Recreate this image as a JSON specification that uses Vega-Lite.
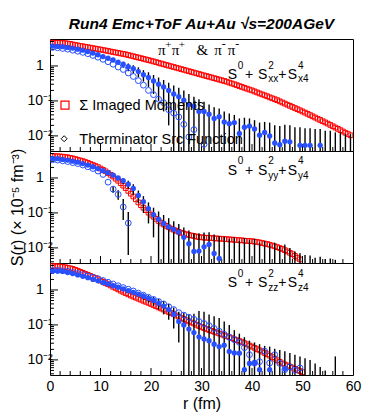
{
"$schema":"https://vega.github.io/schema/vega-lite/v6.json",
"padding":{"left":9,"top":16,"right":5,"bottom":5},
"background":"white",
"spacing":0,
"bounds":"flush",
"config":{"view":{"stroke":"black","strokeWidth":1},"concat":{"spacing":0},
"axis":{"labelFont":"Liberation Sans","labelFontSize":14,"labelColor":"black","ticks":false,"domain":false,"grid":false,"labelOverlap":false,"labelFlush":false,"titleFont":"Liberation Sans","titleFontWeight":"normal","titleFontSize":16,"titleColor":"black"}},
"datasets":{
"xmin":[{"r":2},{"r":4},{"r":6},{"r":8},{"r":12},{"r":14},{"r":16},{"r":18},{"r":22},{"r":24},{"r":26},{"r":28},{"r":32},{"r":34},{"r":36},{"r":38},{"r":42},{"r":44},{"r":46},{"r":48},{"r":52},{"r":54},{"r":56},{"r":58}],
"xmaj":[{"r":10},{"r":20},{"r":30},{"r":40},{"r":50}],
"ymin":[{"v":0.004},{"v":0.005},{"v":0.006},{"v":0.007},{"v":0.008},{"v":0.009},{"v":0.02},{"v":0.03},{"v":0.04},{"v":0.05},{"v":0.06},{"v":0.07},{"v":0.08},{"v":0.09},{"v":0.2},{"v":0.3},{"v":0.4},{"v":0.5},{"v":0.6},{"v":0.7},{"v":0.8},{"v":0.9},{"v":2},{"v":3},{"v":4},{"v":5}],
"ymaj":[{"v":0.01},{"v":0.1},{"v":1}],
"img":[
{"r":0.5,"xx":4.62,"yy":4.22,"zz":4.79},{"r":1,"xx":4.61,"yy":4.21,"zz":4.76},{"r":1.5,"xx":4.59,"yy":4.17,"zz":4.73},{"r":2,"xx":4.57,"yy":4.12,"zz":4.68},{"r":2.5,"xx":4.52,"yy":4.07,"zz":4.57},{"r":3,"xx":4.47,"yy":3.98,"zz":4.47},{"r":3.5,"xx":4.37,"yy":3.89,"zz":4.32},{"r":4,"xx":4.27,"yy":3.76,"zz":4.17},{"r":4.5,"xx":4.12,"yy":3.63,"zz":3.98},{"r":5,"xx":3.98,"yy":3.47,"zz":3.76},
{"r":5.5,"xx":3.86,"yy":3.31,"zz":3.55},{"r":6,"xx":3.75,"yy":3.16,"zz":3.31},{"r":6.5,"xx":3.64,"yy":3.02,"zz":3.09},{"r":7,"xx":3.53,"yy":2.85,"zz":2.88},{"r":7.5,"xx":3.43,"yy":2.69,"zz":2.69},{"r":8,"xx":3.33,"yy":2.51,"zz":2.51},{"r":8.5,"xx":3.23,"yy":2.34,"zz":2.34},{"r":9,"xx":3.13,"yy":2.19,"zz":2.19},{"r":9.5,"xx":3.04,"yy":2.04,"zz":2.02},{"r":10,"xx":2.95,"yy":1.86,"zz":1.86},
{"r":10.5,"xx":2.86,"yy":1.70,"zz":1.72},{"r":11,"xx":2.77,"yy":1.55,"zz":1.58},{"r":11.5,"xx":2.68,"yy":1.38,"zz":1.46},{"r":12,"xx":2.59,"yy":1.23,"zz":1.35},{"r":12.5,"xx":2.51,"yy":1.10,"zz":1.23},{"r":13,"xx":2.43,"yy":0.955,"zz":1.14},{"r":13.5,"xx":2.36,"yy":0.832,"zz":1.04},{"r":14,"xx":2.28,"yy":0.708,"zz":0.955},{"r":14.5,"xx":2.21,"yy":0.603,"zz":0.881},{"r":15,"xx":2.14,"yy":0.513,"zz":0.813},
{"r":15.5,"xx":2.05,"yy":0.427,"zz":0.75},{"r":16,"xx":1.97,"yy":0.355,"zz":0.692},{"r":16.5,"xx":1.89,"yy":0.295,"zz":0.646},{"r":17,"xx":1.81,"yy":0.245,"zz":0.603},{"r":17.5,"xx":1.74,"yy":0.2,"zz":0.562},{"r":18,"xx":1.67,"yy":0.166,"zz":0.525},{"r":18.5,"xx":1.6,"yy":0.141,"zz":0.49},{"r":19,"xx":1.53,"yy":0.12,"zz":0.457},{"r":19.5,"xx":1.47,"yy":0.102,"zz":0.427},{"r":20,"xx":1.41,"yy":0.0891,"zz":0.398},
{"r":20.5,"xx":1.35,"yy":0.0776,"zz":0.372},{"r":21,"xx":1.29,"yy":0.0676,"zz":0.343},{"r":21.5,"xx":1.23,"yy":0.0589,"zz":0.316},{"r":22,"xx":1.17,"yy":0.0525,"zz":0.295},{"r":22.5,"xx":1.12,"yy":0.0468,"zz":0.275},{"r":23,"xx":1.07,"yy":0.0427,"zz":0.254},{"r":23.5,"xx":1.02,"yy":0.0389,"zz":0.234},{"r":24,"xx":0.977,"yy":0.0355,"zz":0.219},{"r":24.5,"xx":0.933,"yy":0.0331,"zz":0.202},{"r":25,"xx":0.891,"yy":0.0309,"zz":0.186},
{"r":25.5,"xx":0.851,"yy":0.0288,"zz":0.172},{"r":26,"xx":0.813,"yy":0.0269,"zz":0.158},{"r":26.5,"xx":0.776,"yy":0.0257,"zz":0.148},{"r":27,"xx":0.741,"yy":0.0245,"zz":0.136},{"r":27.5,"xx":0.708,"yy":0.0234,"zz":0.126},{"r":28,"xx":0.676,"yy":0.0226,"zz":0.117},{"r":28.5,"xx":0.646,"yy":0.0219,"zz":0.11},{"r":29,"xx":0.617,"yy":0.0211,"zz":0.101},{"r":29.5,"xx":0.589,"yy":0.0204,"zz":0.0933},{"r":30,"xx":0.562,"yy":0.02,"zz":0.0871},
{"r":30.5,"xx":0.537,"yy":0.0197,"zz":0.0813},{"r":31,"xx":0.513,"yy":0.0195,"zz":0.0767},{"r":31.5,"xx":0.49,"yy":0.0193,"zz":0.0716},{"r":32,"xx":0.468,"yy":0.0191,"zz":0.0676},{"r":32.5,"xx":0.447,"yy":0.0188,"zz":0.0638},{"r":33,"xx":0.427,"yy":0.0186,"zz":0.0603},{"r":33.5,"xx":0.407,"yy":0.0184,"zz":0.0569},{"r":34,"xx":0.389,"yy":0.0182,"zz":0.0537},{"r":34.5,"xx":0.372,"yy":0.018,"zz":0.0501},{"r":35,"xx":0.355,"yy":0.0178,"zz":0.0473},
{"r":35.5,"xx":0.335,"yy":0.0175,"zz":0.0447},{"r":36,"xx":0.316,"yy":0.0173,"zz":0.0417},{"r":36.5,"xx":0.299,"yy":0.0171,"zz":0.0389},{"r":37,"xx":0.282,"yy":0.0168,"zz":0.0367},{"r":37.5,"xx":0.266,"yy":0.0166,"zz":0.0347},{"r":38,"xx":0.251,"yy":0.0164,"zz":0.0324},{"r":38.5,"xx":0.237,"yy":0.0161,"zz":0.0302},{"r":39,"xx":0.224,"yy":0.0159,"zz":0.0279},{"r":39.5,"xx":0.211,"yy":0.0157,"zz":0.0257},{"r":40,"xx":0.2,"yy":0.0155,"zz":0.024},
{"r":40.5,"xx":0.187,"yy":0.0151,"zz":0.0221},{"r":41,"xx":0.175,"yy":0.0148,"zz":0.0204},{"r":41.5,"xx":0.164,"yy":0.0143,"zz":0.0188},{"r":42,"xx":0.154,"yy":0.0138,"zz":0.0174},{"r":42.5,"xx":0.145,"yy":0.0133,"zz":0.0158},{"r":43,"xx":0.136,"yy":0.0129,"zz":0.0145},{"r":43.5,"xx":0.127,"yy":0.0123,"zz":0.0132},{"r":44,"xx":0.119,"yy":0.0117,"zz":0.012},{"r":44.5,"xx":0.112,"yy":0.0111,"zz":0.0108},{"r":45,"xx":0.105,"yy":0.0105,"zz":0.00977},
{"r":45.5,"xx":0.0973,"yy":0.00989,"zz":0.00881},{"r":46,"xx":0.0904,"yy":0.00933,"zz":0.00794},{"r":46.5,"xx":0.0839,"yy":0.00861,"zz":0.00741},{"r":47,"xx":0.078,"yy":0.00794,"zz":0.00692},{"r":47.5,"xx":0.0724,"yy":0.00724,"zz":0.00646},{"r":48,"xx":0.0673,"yy":0.00661,"zz":0.00603},{"r":48.5,"xx":0.0625,"yy":0.00589,"zz":0.00556},{"r":49,"xx":0.0581,"yy":0.00525,"zz":0.00513},{"r":49.5,"xx":0.054,"yy":0.00468,"zz":0.00479},{"r":50,"xx":0.0501,"zz":0.00447},
{"r":50.5,"xx":0.0462},{"r":51,"xx":0.0427},{"r":51.5,"xx":0.0394},{"r":52,"xx":0.0363},{"r":52.5,"xx":0.0335},{"r":53,"xx":0.0309},{"r":53.5,"xx":0.0285},{"r":54,"xx":0.0263},{"r":54.5,"xx":0.0243},{"r":55,"xx":0.0224},
{"r":55.5,"xx":0.0206},{"r":56,"xx":0.0189},{"r":56.5,"xx":0.0173},{"r":57,"xx":0.0159},{"r":57.5,"xx":0.0146},{"r":58,"xx":0.0134},{"r":58.5,"xx":0.0123},{"r":59,"xx":0.0113},{"r":59.5,"xx":0.0104}
],
"dxx":[
{"r":0.5,"v":3.72},{"r":1.5,"v":3.63},{"r":2.5,"v":3.55},{"r":3.5,"v":3.39},{"r":4.5,"v":3.24},{"r":5.5,"v":3.02},{"r":6.5,"v":2.82},{"r":7.5,"v":2.57},{"r":8.5,"v":2.34},{"r":9.5,"v":2.09},{"r":10.5,"v":1.86},{"r":11.5,"v":1.66},{"r":12.5,"v":1.48},{"r":13.5,"v":1.29},
{"r":14.5,"v":1.12,"lo":0.891,"hi":1.32},{"r":15.5,"v":0.955,"lo":0.708,"hi":1.17},{"r":16.5,"v":0.832,"lo":0.603,"hi":1.05},{"r":17.5,"v":0.692,"lo":0.468,"hi":0.912},{"r":18.5,"v":0.562,"lo":0.355,"hi":0.759},{"r":19.5,"v":0.468,"lo":0.251,"hi":0.661},{"r":20.5,"v":0.372,"lo":0.158,"hi":0.55},{"r":21.5,"v":0.302,"lo":0.1,"hi":0.468},{"r":22.5,"v":0.251,"lo":0.0501,"hi":0.398},{"r":23.5,"v":0.2,"lo":0.02,"hi":0.331},
{"r":24.5,"v":0.158,"lo":0.0001,"hi":0.275},{"r":25.5,"v":0.132,"lo":0.0001,"hi":0.24},{"r":26.5,"v":0.105,"lo":0.0001,"hi":0.2},{"r":27.5,"v":0.0794,"lo":0.0001,"hi":0.158},{"r":28.5,"v":0.0708,"lo":0.0001,"hi":0.132},{"r":29.5,"v":0.0501,"lo":0.0001,"hi":0.112},{"r":30.5,"v":0.0501,"lo":0.0001,"hi":0.0955},{"r":31.5,"v":0.0417,"lo":0.0001,"hi":0.0794},{"r":32.5,"v":0.0316,"lo":0.0001,"hi":0.0661},{"r":33.5,"v":0.0355,"lo":0.0001,"hi":0.0603},
{"r":34.5,"v":0.0251,"lo":0.0001,"hi":0.0501},{"r":35.5,"v":0.0224,"lo":0.0001,"hi":0.0437},{"r":36.5,"v":0.024,"lo":0.0001,"hi":0.0398},{"r":37.5,"v":0.0117,"lo":0.0001,"hi":0.0316},{"r":38.5,"v":0.0178,"lo":0.0001,"hi":0.0331},{"r":39.5,"v":0.0191,"lo":0.0001,"hi":0.0316},{"r":40.5,"v":0.0158,"lo":0.0001,"hi":0.0282},{"r":41.5,"v":0.0105,"lo":0.0001,"hi":0.024},{"r":42.5,"v":0.0126,"lo":0.0001,"hi":0.0251},{"r":43.5,"v":0.01,"lo":0.0001,"hi":0.024},
{"r":44.5,"v":0.00631,"lo":0.0001,"hi":0.02},{"r":45.5,"v":0.00562,"lo":0.0001,"hi":0.0191},{"r":46.5,"v":0.00708,"lo":0.0001,"hi":0.0209},{"r":47.5,"v":0.00676,"lo":0.0001,"hi":0.02},{"r":48.5,"v":null,"lo":0.0001,"hi":0.0178},{"r":49.5,"v":0.00537,"lo":0.0001,"hi":0.0178},{"r":50.5,"v":0.00537,"lo":0.0001,"hi":0.0166},{"r":51.5,"v":0.00537,"lo":0.0001,"hi":0.0166},{"r":52.5,"v":null,"lo":0.0001,"hi":0.0158},{"r":53.5,"v":0.00537,"lo":0.0001,"hi":0.0158},
{"r":54.5,"v":null,"lo":0.0001,"hi":0.0141},{"r":55.5,"v":null,"lo":0.0001,"hi":0.0141},{"r":56.5,"v":null,"lo":0.0001,"hi":0.0126},{"r":57.5,"v":null,"lo":0.0001,"hi":0.0126},{"r":58.5,"v":null,"lo":0.0001,"hi":0.0112},{"r":59.5,"v":null,"lo":0.0001,"hi":0.0112}
],
"txx":[
{"r":0.5,"v":3.39},{"r":1.5,"v":3.31},{"r":2.5,"v":3.16},{"r":3.5,"v":3.02},{"r":4.5,"v":2.82},{"r":5.5,"v":2.63},{"r":6.5,"v":2.45},{"r":7.5,"v":2.24},{"r":8.5,"v":2.0},{"r":9.5,"v":1.78},{"r":10.5,"v":1.55},{"r":11.5,"v":1.32},{"r":12.5,"v":1.12},{"r":13.5,"v":0.933},{"r":14.5,"v":0.794},{"r":15.5,"v":0.631},{"r":16.5,"v":0.501},{"r":17.5,"v":0.38},{"r":18.5,"v":0.282},{"r":19.5,"v":0.2},{"r":20.5,"v":0.151},{"r":21.5,"v":0.112},{"r":22.5,"v":0.0891},{"r":23.5,"v":0.0562},{"r":24.5,"v":0.0447},{"r":25.5,"v":0.0347},{"r":26.5,"v":0.0214},{"r":27.5,"v":0.00933},{"r":28.5,"v":0.0151},{"r":30.5,"v":0.00575}
],
"dyy":[
{"r":0.5,"v":3.63},{"r":1.5,"v":3.55},{"r":2.5,"v":3.39},{"r":3.5,"v":3.24},{"r":4.5,"v":3.02},{"r":5.5,"v":2.82},{"r":6.5,"v":2.57},{"r":7.5,"v":2.34},{"r":8.5,"v":2.09},{"r":9.5,"v":1.86},{"r":10.5,"v":1.62},{"r":11.5,"v":1.41},{"r":12.5,"v":1.2},{"r":13.5,"v":1.0},
{"r":14.5,"v":0.832,"lo":0.661,"hi":1.0},{"r":15.5,"v":0.661,"lo":0.501,"hi":0.832},{"r":16.5,"v":0.501,"lo":0.331,"hi":0.661},{"r":17.5,"v":0.316,"lo":0.191,"hi":0.437},{"r":18.5,"v":0.209,"lo":0.1,"hi":0.302},{"r":19.5,"v":0.132,"lo":0.0501,"hi":0.2},{"r":20.5,"v":0.0891,"lo":0.02,"hi":0.141},{"r":21.5,"v":0.0661,"lo":0.0001,"hi":0.11},{"r":22.5,"v":0.0501,"lo":0.0001,"hi":0.0871},{"r":23.5,"v":0.0398,"lo":0.0001,"hi":0.0708},
{"r":24.5,"v":0.0339,"lo":0.0001,"hi":0.0575},{"r":25.5,"v":0.0282,"lo":0.0001,"hi":0.0479},{"r":26.5,"v":0.02,"lo":0.0001,"hi":0.038},{"r":27.5,"v":0.0132,"lo":0.0001,"hi":0.0316},{"r":28.5,"v":0.00794,"lo":0.0001,"hi":0.0263},{"r":29.5,"v":0.00813,"lo":0.0001,"hi":0.0263},{"r":30.5,"v":0.0107,"lo":0.0001,"hi":0.0275},{"r":31.5,"v":0.0126,"lo":0.0001,"hi":0.0282},{"r":32.5,"v":0.00692,"lo":0.0001,"hi":0.024},{"r":33.5,"v":0.00501,"lo":0.0001,"hi":0.0219},
{"r":34.5,"v":null,"lo":0.0001,"hi":0.0209},{"r":35.5,"v":null,"lo":0.0001,"hi":0.0178},{"r":36.5,"v":null,"lo":0.0001,"hi":0.02},{"r":37.5,"v":null,"lo":0.0001,"hi":0.0158},{"r":38.5,"v":null,"lo":0.0001,"hi":0.0191},{"r":39.5,"v":null,"lo":0.0001,"hi":0.0166},{"r":40.5,"v":null,"lo":0.0001,"hi":0.0182},{"r":41.5,"v":null,"lo":0.0001,"hi":0.0141},{"r":42.5,"v":null,"lo":0.0001,"hi":0.0158},{"r":43.5,"v":null,"lo":0.0001,"hi":0.0132},
{"r":44.5,"v":null,"lo":0.0001,"hi":0.0141},{"r":45.5,"v":null,"lo":0.0001,"hi":0.0112},{"r":46.5,"v":null,"lo":0.0001,"hi":0.0126},{"r":47.5,"v":null,"lo":0.0001,"hi":0.01},{"r":48.5,"v":null,"lo":0.0001,"hi":0.00794},{"r":49.5,"v":null,"lo":0.0001,"hi":0.00708},{"r":50.5,"v":null,"lo":0.0001,"hi":0.00631},{"r":51.5,"v":null,"lo":0.0001,"hi":0.00603},{"r":52.5,"v":null,"lo":0.0001,"hi":0.00525},{"r":53.5,"v":null,"lo":0.0001,"hi":0.00562},
{"r":54.5,"v":null,"lo":0.0001,"hi":0.00479},{"r":55.5,"v":null,"lo":0.0001,"hi":0.00501},{"r":56.5,"v":null,"lo":0.0001,"hi":0.00457}
],
"tyy":[
{"r":0.5,"v":3.31},{"r":1.5,"v":3.24},{"r":2.5,"v":3.09},{"r":3.5,"v":2.95},{"r":4.5,"v":2.75},{"r":5.5,"v":2.57},{"r":6.5,"v":2.34},{"r":7.5,"v":2.09},{"r":8.5,"v":1.86},{"r":9.5,"v":1.58},{"r":10.5,"v":1.26},{"r":11.5,"v":0.759},
{"r":12.5,"v":0.479,"lo":0.38,"hi":0.575},{"r":13.5,"v":0.339,"lo":0.24,"hi":0.447},{"r":14.5,"v":0.148,"lo":0.0631,"hi":0.251},{"r":15.5,"v":0.0513,"lo":0.00631,"hi":0.107}
],
"dzz":[
{"r":0.5,"v":3.47},{"r":1.5,"v":3.47},{"r":2.5,"v":3.39},{"r":3.5,"v":3.16},{"r":4.5,"v":2.95},{"r":5.5,"v":2.69},{"r":6.5,"v":2.45},{"r":7.5,"v":2.24},{"r":8.5,"v":2.0},{"r":9.5,"v":1.82},{"r":10.5,"v":1.62},{"r":11.5,"v":1.48},{"r":12.5,"v":1.32},{"r":13.5,"v":1.2},{"r":14.5,"v":1.07},{"r":15.5,"v":0.955},{"r":16.5,"v":0.851},{"r":17.5,"v":0.759},
{"r":18.5,"v":0.661,"lo":0.525,"hi":0.794},{"r":19.5,"v":0.575,"lo":0.437,"hi":0.708},{"r":20.5,"v":0.501,"lo":0.355,"hi":0.631},{"r":21.5,"v":0.417,"lo":0.275,"hi":0.55},{"r":22.5,"v":0.347,"lo":0.2,"hi":0.479},{"r":23.5,"v":0.275,"lo":0.141,"hi":0.398},{"r":24.5,"v":0.2,"lo":0.0794,"hi":0.316},{"r":25.5,"v":0.126,"lo":0.0316,"hi":0.24},
{"r":26.5,"v":0.1,"lo":0.0001,"hi":0.224},{"r":27.5,"v":0.0759,"lo":0.0001,"hi":0.2},{"r":28.5,"v":0.0603,"lo":0.0001,"hi":0.209},{"r":29.5,"v":0.0457,"lo":0.0001,"hi":0.251},{"r":30.5,"v":0.0398,"lo":0.0001,"hi":0.24},{"r":31.5,"v":0.0355,"lo":0.0001,"hi":0.2},{"r":32.5,"v":0.0282,"lo":0.0001,"hi":0.178},{"r":33.5,"v":0.024,"lo":0.0001,"hi":0.158},{"r":34.5,"v":0.0263,"lo":0.0001,"hi":0.126},{"r":35.5,"v":0.0174,"lo":0.0001,"hi":0.1},
{"r":36.5,"v":0.0158,"lo":0.0001,"hi":0.0708},{"r":37.5,"v":0.0155,"lo":0.0001,"hi":0.0562},{"r":38.5,"v":0.00525,"lo":0.0001,"hi":0.0447},{"r":39.5,"v":0.00794,"lo":0.0001,"hi":0.0355},{"r":40.5,"v":0.00813,"lo":0.0001,"hi":0.0316},{"r":41.5,"v":0.00525,"lo":0.0001,"hi":0.0282},{"r":42.5,"v":null,"lo":0.0001,"hi":0.0251},{"r":43.5,"v":0.00525,"lo":0.0001,"hi":0.024},{"r":44.5,"v":null,"lo":0.0001,"hi":0.0209},{"r":45.5,"v":null,"lo":0.0001,"hi":0.0191},
{"r":46.5,"v":0.00562,"lo":0.0001,"hi":0.0178},{"r":47.5,"v":null,"lo":0.0001,"hi":0.0158},{"r":48.5,"v":null,"lo":0.0001,"hi":0.0141},{"r":49.5,"v":null,"lo":0.0001,"hi":0.0126},{"r":50.5,"v":null,"lo":0.0001,"hi":0.0112},{"r":51.5,"v":null,"lo":0.0001,"hi":0.01},{"r":52.5,"v":null,"lo":0.0001,"hi":0.00794},{"r":53.5,"v":null,"lo":0.0001,"hi":0.00631},{"r":54.5,"v":null,"lo":0.0001,"hi":0.00501},{"r":56.5,"v":null,"lo":0.0001,"hi":0.0126}
],
"tzz":[
{"r":0.5,"v":3.63},{"r":1.5,"v":3.63},{"r":2.5,"v":3.55},{"r":3.5,"v":3.39},{"r":4.5,"v":3.16},{"r":5.5,"v":2.95},{"r":6.5,"v":2.75},{"r":7.5,"v":2.51},{"r":8.5,"v":2.29},{"r":9.5,"v":2.09},{"r":10.5,"v":1.86},{"r":11.5,"v":1.66},{"r":12.5,"v":1.48},{"r":13.5,"v":1.32},{"r":14.5,"v":1.17},{"r":15.5,"v":1.05},{"r":16.5,"v":0.933},{"r":17.5,"v":0.813},{"r":18.5,"v":0.708},{"r":19.5,"v":0.617},{"r":20.5,"v":0.537},{"r":21.5,"v":0.468},{"r":22.5,"v":0.398},{"r":23.5,"v":0.331},{"r":24.5,"v":0.275},
{"r":25.5,"v":0.224},{"r":26.5,"v":0.191},{"r":27.5,"v":0.166},{"r":28.5,"v":0.145},{"r":29.5,"v":0.126},{"r":30.5,"v":0.11},{"r":31.5,"v":0.0955},{"r":32.5,"v":0.0794},{"r":33.5,"v":0.0661},{"r":34.5,"v":0.0537},{"r":35.5,"v":0.0447},{"r":36.5,"v":0.038},{"r":37.5,"v":0.0316},{"r":38.5,"v":0.0224},{"r":39.5,"v":0.0141},{"r":40.5,"v":0.00813},{"r":41.5,"v":0.00891},{"r":42.5,"v":0.0178},{"r":43.5,"v":0.00813},{"r":44.5,"v":0.0141},{"r":45.5,"v":0.00794},{"r":46.5,"v":0.00525},{"r":47.5,"v":0.00631},{"r":48.5,"v":0.00501},{"r":49.5,"v":0.00589}
]
},
"vconcat":[
{
"width":303,"height":112,
"title":{"text":"Run4 Emc+ToF Au+Au √s=200AGeV","fontSize":15.5,"font":"Liberation Sans","fontStyle":"italic","fontWeight":"bold","anchor":"middle","offset":5,"color":"black"},
"layer":[
{"data":{"name":"img"},"mark":{"type":"point","shape":"square","filled":false,"color":"#ff0000","size":22,"strokeWidth":1,"opacity":1,"clip":true},
"encoding":{"x":{"field":"r","type":"quantitative","scale":{"domain":[0,60]},"axis":{"values":[0,10,20,30,40,50,60],"labels":false,"title":null}},
"y":{"field":"xx","type":"quantitative","scale":{"type":"log","domain":[0.0037,5.9]},"axis":{"values":[0.01,0.1,1],"title":null,"labelAlign":"center","labelPadding":10.5,"labelExpr":"datum.value === 1 ? '1' : datum.value === 0.1 ? '10⁻¹' : '10⁻²'"}}}},
{"data":{"name":"xmin"},"mark":{"type":"tick","orient":"vertical","size":8,"thickness":1,"color":"black","opacity":1,"clip":true},"encoding":{"x":{"field":"r","type":"quantitative","scale":{"domain":[0,60]}},"y":{"datum":0.0037,"type":"quantitative","scale":{"type":"log","domain":[0.0037,5.9]}}}},
{"data":{"name":"xmaj"},"mark":{"type":"tick","orient":"vertical","size":14,"thickness":1,"color":"black","opacity":1,"clip":true},"encoding":{"x":{"field":"r","type":"quantitative","scale":{"domain":[0,60]}},"y":{"datum":0.0037,"type":"quantitative","scale":{"type":"log","domain":[0.0037,5.9]}}}},
{"data":{"name":"ymin"},"mark":{"type":"tick","orient":"horizontal","size":8,"thickness":1,"color":"black","opacity":1,"clip":true},"encoding":{"x":{"datum":0,"type":"quantitative","scale":{"domain":[0,60]}},"y":{"field":"v","type":"quantitative","scale":{"type":"log","domain":[0.0037,5.9]}}}},
{"data":{"name":"ymaj"},"mark":{"type":"tick","orient":"horizontal","size":16,"thickness":1,"color":"black","opacity":1,"clip":true},"encoding":{"x":{"datum":0,"type":"quantitative","scale":{"domain":[0,60]}},"y":{"field":"v","type":"quantitative","scale":{"type":"log","domain":[0.0037,5.9]}}}},
{"data":{"name":"dxx"},"mark":{"type":"rule","color":"#000000","strokeWidth":1.4,"clip":true},"encoding":{"x":{"field":"r","type":"quantitative","scale":{"domain":[0,60]}},"y":{"field":"lo","type":"quantitative","scale":{"type":"log","domain":[0.0037,5.9]}},"y2":{"field":"hi"}}},
{"data":{"name":"dxx"},"mark":{"type":"point","shape":"circle","filled":true,"color":"#2850ff","size":28,"opacity":1,"clip":true},"encoding":{"x":{"field":"r","type":"quantitative","scale":{"domain":[0,60]}},"y":{"field":"v","type":"quantitative","scale":{"type":"log","domain":[0.0037,5.9]}}}},
{"data":{"name":"txx"},"mark":{"type":"point","shape":"circle","filled":false,"color":"#2850ff","size":34,"strokeWidth":1,"opacity":1,"clip":true},"encoding":{"x":{"field":"r","type":"quantitative","scale":{"domain":[0,60]}},"y":{"field":"v","type":"quantitative","scale":{"type":"log","domain":[0.0037,5.9]}}}},
{"data":{"values":[{}]},"mark":{"type":"text","text":"π","font":"Liberation Serif","fontSize":15,"align":"left","baseline":"alphabetic","color":"black"},"encoding":{"x":{"datum":21.4,"type":"quantitative","scale":{"domain":[0,60]}},"y":{"datum":2.06,"type":"quantitative","scale":{"type":"log","domain":[0.0037,5.9]}}}},
{"data":{"values":[{}]},"mark":{"type":"text","text":"+","font":"Liberation Serif","fontSize":11,"align":"left","baseline":"alphabetic","color":"black"},"encoding":{"x":{"datum":22.8,"type":"quantitative","scale":{"domain":[0,60]}},"y":{"datum":3.27,"type":"quantitative","scale":{"type":"log","domain":[0.0037,5.9]}}}},
{"data":{"values":[{}]},"mark":{"type":"text","text":"π","font":"Liberation Serif","fontSize":15,"align":"left","baseline":"alphabetic","color":"black"},"encoding":{"x":{"datum":24.1,"type":"quantitative","scale":{"domain":[0,60]}},"y":{"datum":2.06,"type":"quantitative","scale":{"type":"log","domain":[0.0037,5.9]}}}},
{"data":{"values":[{}]},"mark":{"type":"text","text":"+","font":"Liberation Serif","fontSize":11,"align":"left","baseline":"alphabetic","color":"black"},"encoding":{"x":{"datum":25.5,"type":"quantitative","scale":{"domain":[0,60]}},"y":{"datum":3.27,"type":"quantitative","scale":{"type":"log","domain":[0.0037,5.9]}}}},
{"data":{"values":[{}]},"mark":{"type":"text","text":"&","font":"Liberation Serif","fontSize":15,"align":"left","baseline":"alphabetic","color":"black"},"encoding":{"x":{"datum":29.0,"type":"quantitative","scale":{"domain":[0,60]}},"y":{"datum":2.06,"type":"quantitative","scale":{"type":"log","domain":[0.0037,5.9]}}}},
{"data":{"values":[{}]},"mark":{"type":"text","text":"π","font":"Liberation Serif","fontSize":15,"align":"left","baseline":"alphabetic","color":"black"},"encoding":{"x":{"datum":32.5,"type":"quantitative","scale":{"domain":[0,60]}},"y":{"datum":2.06,"type":"quantitative","scale":{"type":"log","domain":[0.0037,5.9]}}}},
{"data":{"values":[{}]},"mark":{"type":"text","text":"-","font":"Liberation Serif","fontSize":12,"align":"left","baseline":"alphabetic","color":"black"},"encoding":{"x":{"datum":34.0,"type":"quantitative","scale":{"domain":[0,60]}},"y":{"datum":3.27,"type":"quantitative","scale":{"type":"log","domain":[0.0037,5.9]}}}},
{"data":{"values":[{}]},"mark":{"type":"text","text":"π","font":"Liberation Serif","fontSize":15,"align":"left","baseline":"alphabetic","color":"black"},"encoding":{"x":{"datum":35.2,"type":"quantitative","scale":{"domain":[0,60]}},"y":{"datum":2.06,"type":"quantitative","scale":{"type":"log","domain":[0.0037,5.9]}}}},
{"data":{"values":[{}]},"mark":{"type":"text","text":"-","font":"Liberation Serif","fontSize":12,"align":"left","baseline":"alphabetic","color":"black"},"encoding":{"x":{"datum":36.7,"type":"quantitative","scale":{"domain":[0,60]}},"y":{"datum":3.27,"type":"quantitative","scale":{"type":"log","domain":[0.0037,5.9]}}}},
{"data":{"values":[{}]},"mark":{"type":"text","text":"S","fontSize":14,"align":"left","baseline":"alphabetic","color":"black"},"encoding":{"x":{"datum":35.2,"type":"quantitative","scale":{"domain":[0,60]}},"y":{"datum":0.425,"type":"quantitative","scale":{"type":"log","domain":[0.0037,5.9]}}}},
{"data":{"values":[{}]},"mark":{"type":"text","text":"0","fontSize":10,"align":"left","baseline":"alphabetic","color":"black"},"encoding":{"x":{"datum":37.2,"type":"quantitative","scale":{"domain":[0,60]}},"y":{"datum":0.837,"type":"quantitative","scale":{"type":"log","domain":[0.0037,5.9]}}}},
{"data":{"values":[{}]},"mark":{"type":"text","text":"+","fontSize":14,"align":"left","baseline":"alphabetic","color":"black"},"encoding":{"x":{"datum":38.6,"type":"quantitative","scale":{"domain":[0,60]}},"y":{"datum":0.425,"type":"quantitative","scale":{"type":"log","domain":[0.0037,5.9]}}}},
{"data":{"values":[{}]},"mark":{"type":"text","text":"S","fontSize":14,"align":"left","baseline":"alphabetic","color":"black"},"encoding":{"x":{"datum":41.2,"type":"quantitative","scale":{"domain":[0,60]}},"y":{"datum":0.425,"type":"quantitative","scale":{"type":"log","domain":[0.0037,5.9]}}}},
{"data":{"values":[{}]},"mark":{"type":"text","text":"2","fontSize":10,"align":"left","baseline":"alphabetic","color":"black"},"encoding":{"x":{"datum":43.2,"type":"quantitative","scale":{"domain":[0,60]}},"y":{"datum":0.837,"type":"quantitative","scale":{"type":"log","domain":[0.0037,5.9]}}}},
{"data":{"values":[{}]},"mark":{"type":"text","text":"xx","fontSize":10,"align":"left","baseline":"alphabetic","color":"black"},"encoding":{"x":{"datum":43.2,"type":"quantitative","scale":{"domain":[0,60]}},"y":{"datum":0.349,"type":"quantitative","scale":{"type":"log","domain":[0.0037,5.9]}}}},
{"data":{"values":[{}]},"mark":{"type":"text","text":"+","fontSize":14,"align":"left","baseline":"alphabetic","color":"black"},"encoding":{"x":{"datum":45.2,"type":"quantitative","scale":{"domain":[0,60]}},"y":{"datum":0.425,"type":"quantitative","scale":{"type":"log","domain":[0.0037,5.9]}}}},
{"data":{"values":[{}]},"mark":{"type":"text","text":"S","fontSize":14,"align":"left","baseline":"alphabetic","color":"black"},"encoding":{"x":{"datum":47.1,"type":"quantitative","scale":{"domain":[0,60]}},"y":{"datum":0.425,"type":"quantitative","scale":{"type":"log","domain":[0.0037,5.9]}}}},
{"data":{"values":[{}]},"mark":{"type":"text","text":"4","fontSize":10,"align":"left","baseline":"alphabetic","color":"black"},"encoding":{"x":{"datum":49.1,"type":"quantitative","scale":{"domain":[0,60]}},"y":{"datum":0.837,"type":"quantitative","scale":{"type":"log","domain":[0.0037,5.9]}}}},
{"data":{"values":[{}]},"mark":{"type":"text","text":"x4","fontSize":10,"align":"left","baseline":"alphabetic","color":"black"},"encoding":{"x":{"datum":49.1,"type":"quantitative","scale":{"domain":[0,60]}},"y":{"datum":0.349,"type":"quantitative","scale":{"type":"log","domain":[0.0037,5.9]}}}},
{"data":{"values":[{}]},"mark":{"type":"point","shape":"square","filled":false,"color":"#ff0000","size":64,"strokeWidth":1.2,"opacity":1},"encoding":{"x":{"datum":2.97,"type":"quantitative","scale":{"domain":[0,60]}},"y":{"datum":0.0755,"type":"quantitative","scale":{"type":"log","domain":[0.0037,5.9]}}}},
{"data":{"values":[{}]},"mark":{"type":"text","text":"Σ Imaged Moments","fontSize":14.5,"align":"left","baseline":"alphabetic","color":"black"},"encoding":{"x":{"datum":5.8,"type":"quantitative","scale":{"domain":[0,60]}},"y":{"datum":0.0562,"type":"quantitative","scale":{"type":"log","domain":[0.0037,5.9]}}}},
{"data":{"values":[{}]},"mark":{"type":"point","shape":"diamond","filled":false,"color":"#000000","size":36,"strokeWidth":1,"opacity":1},"encoding":{"x":{"datum":2.8,"type":"quantitative","scale":{"domain":[0,60]}},"y":{"datum":0.0083,"type":"quantitative","scale":{"type":"log","domain":[0.0037,5.9]}}}},
{"data":{"values":[{}]},"mark":{"type":"text","text":"Therminator Src Function","fontSize":14.5,"align":"left","baseline":"alphabetic","color":"black"},"encoding":{"x":{"datum":5.8,"type":"quantitative","scale":{"domain":[0,60]}},"y":{"datum":0.0058,"type":"quantitative","scale":{"type":"log","domain":[0.0037,5.9]}}}}
]
},
{
"width":303,"height":112,
"layer":[
{"data":{"name":"img"},"mark":{"type":"point","shape":"square","filled":false,"color":"#ff0000","size":22,"strokeWidth":1,"opacity":1,"clip":true},
"encoding":{"x":{"field":"r","type":"quantitative","scale":{"domain":[0,60]},"axis":{"values":[0,10,20,30,40,50,60],"labels":false,"title":null}},
"y":{"field":"yy","type":"quantitative","scale":{"type":"log","domain":[0.0037,5.9]},"axis":{"values":[0.01,0.1,1],"title":"S(r̲) (× 10⁻⁵ fm⁻³)","titlePadding":1,"labelAlign":"center","labelPadding":10.5,"labelExpr":"datum.value === 1 ? '1' : datum.value === 0.1 ? '10⁻¹' : '10⁻²'"}}}},
{"data":{"name":"xmin"},"mark":{"type":"tick","orient":"vertical","size":8,"thickness":1,"color":"black","opacity":1,"clip":true},"encoding":{"x":{"field":"r","type":"quantitative","scale":{"domain":[0,60]}},"y":{"datum":0.0037,"type":"quantitative","scale":{"type":"log","domain":[0.0037,5.9]}}}},
{"data":{"name":"xmaj"},"mark":{"type":"tick","orient":"vertical","size":14,"thickness":1,"color":"black","opacity":1,"clip":true},"encoding":{"x":{"field":"r","type":"quantitative","scale":{"domain":[0,60]}},"y":{"datum":0.0037,"type":"quantitative","scale":{"type":"log","domain":[0.0037,5.9]}}}},
{"data":{"name":"ymin"},"mark":{"type":"tick","orient":"horizontal","size":8,"thickness":1,"color":"black","opacity":1,"clip":true},"encoding":{"x":{"datum":0,"type":"quantitative","scale":{"domain":[0,60]}},"y":{"field":"v","type":"quantitative","scale":{"type":"log","domain":[0.0037,5.9]}}}},
{"data":{"name":"ymaj"},"mark":{"type":"tick","orient":"horizontal","size":16,"thickness":1,"color":"black","opacity":1,"clip":true},"encoding":{"x":{"datum":0,"type":"quantitative","scale":{"domain":[0,60]}},"y":{"field":"v","type":"quantitative","scale":{"type":"log","domain":[0.0037,5.9]}}}},
{"data":{"name":"dyy"},"mark":{"type":"rule","color":"#000000","strokeWidth":1.4,"clip":true},"encoding":{"x":{"field":"r","type":"quantitative","scale":{"domain":[0,60]}},"y":{"field":"lo","type":"quantitative","scale":{"type":"log","domain":[0.0037,5.9]}},"y2":{"field":"hi"}}},
{"data":{"name":"tyy"},"mark":{"type":"rule","color":"#000000","strokeWidth":1.4,"clip":true},"encoding":{"x":{"field":"r","type":"quantitative","scale":{"domain":[0,60]}},"y":{"field":"lo","type":"quantitative","scale":{"type":"log","domain":[0.0037,5.9]}},"y2":{"field":"hi"}}},
{"data":{"name":"dyy"},"mark":{"type":"point","shape":"circle","filled":true,"color":"#2850ff","size":28,"opacity":1,"clip":true},"encoding":{"x":{"field":"r","type":"quantitative","scale":{"domain":[0,60]}},"y":{"field":"v","type":"quantitative","scale":{"type":"log","domain":[0.0037,5.9]}}}},
{"data":{"name":"tyy"},"mark":{"type":"point","shape":"circle","filled":false,"color":"#2850ff","size":34,"strokeWidth":1,"opacity":1,"clip":true},"encoding":{"x":{"field":"r","type":"quantitative","scale":{"domain":[0,60]}},"y":{"field":"v","type":"quantitative","scale":{"type":"log","domain":[0.0037,5.9]}}}},
{"data":{"values":[{}]},"mark":{"type":"text","text":"S","fontSize":14,"align":"left","baseline":"alphabetic","color":"black"},"encoding":{"x":{"datum":35.2,"type":"quantitative","scale":{"domain":[0,60]}},"y":{"datum":1.19,"type":"quantitative","scale":{"type":"log","domain":[0.0037,5.9]}}}},
{"data":{"values":[{}]},"mark":{"type":"text","text":"0","fontSize":10,"align":"left","baseline":"alphabetic","color":"black"},"encoding":{"x":{"datum":37.2,"type":"quantitative","scale":{"domain":[0,60]}},"y":{"datum":2.57,"type":"quantitative","scale":{"type":"log","domain":[0.0037,5.9]}}}},
{"data":{"values":[{}]},"mark":{"type":"text","text":"+","fontSize":14,"align":"left","baseline":"alphabetic","color":"black"},"encoding":{"x":{"datum":38.6,"type":"quantitative","scale":{"domain":[0,60]}},"y":{"datum":1.19,"type":"quantitative","scale":{"type":"log","domain":[0.0037,5.9]}}}},
{"data":{"values":[{}]},"mark":{"type":"text","text":"S","fontSize":14,"align":"left","baseline":"alphabetic","color":"black"},"encoding":{"x":{"datum":41.2,"type":"quantitative","scale":{"domain":[0,60]}},"y":{"datum":1.19,"type":"quantitative","scale":{"type":"log","domain":[0.0037,5.9]}}}},
{"data":{"values":[{}]},"mark":{"type":"text","text":"2","fontSize":10,"align":"left","baseline":"alphabetic","color":"black"},"encoding":{"x":{"datum":43.2,"type":"quantitative","scale":{"domain":[0,60]}},"y":{"datum":2.57,"type":"quantitative","scale":{"type":"log","domain":[0.0037,5.9]}}}},
{"data":{"values":[{}]},"mark":{"type":"text","text":"yy","fontSize":10,"align":"left","baseline":"alphabetic","color":"black"},"encoding":{"x":{"datum":43.2,"type":"quantitative","scale":{"domain":[0,60]}},"y":{"datum":0.936,"type":"quantitative","scale":{"type":"log","domain":[0.0037,5.9]}}}},
{"data":{"values":[{}]},"mark":{"type":"text","text":"+","fontSize":14,"align":"left","baseline":"alphabetic","color":"black"},"encoding":{"x":{"datum":45.2,"type":"quantitative","scale":{"domain":[0,60]}},"y":{"datum":1.19,"type":"quantitative","scale":{"type":"log","domain":[0.0037,5.9]}}}},
{"data":{"values":[{}]},"mark":{"type":"text","text":"S","fontSize":14,"align":"left","baseline":"alphabetic","color":"black"},"encoding":{"x":{"datum":47.1,"type":"quantitative","scale":{"domain":[0,60]}},"y":{"datum":1.19,"type":"quantitative","scale":{"type":"log","domain":[0.0037,5.9]}}}},
{"data":{"values":[{}]},"mark":{"type":"text","text":"4","fontSize":10,"align":"left","baseline":"alphabetic","color":"black"},"encoding":{"x":{"datum":49.1,"type":"quantitative","scale":{"domain":[0,60]}},"y":{"datum":2.57,"type":"quantitative","scale":{"type":"log","domain":[0.0037,5.9]}}}},
{"data":{"values":[{}]},"mark":{"type":"text","text":"y4","fontSize":10,"align":"left","baseline":"alphabetic","color":"black"},"encoding":{"x":{"datum":49.1,"type":"quantitative","scale":{"domain":[0,60]}},"y":{"datum":0.936,"type":"quantitative","scale":{"type":"log","domain":[0.0037,5.9]}}}}
]
},
{
"width":303,"height":112,
"layer":[
{"data":{"name":"img"},"mark":{"type":"point","shape":"square","filled":false,"color":"#ff0000","size":22,"strokeWidth":1,"opacity":1,"clip":true},
"encoding":{"x":{"field":"r","type":"quantitative","scale":{"domain":[0,60]},"axis":{"values":[0,10,20,30,40,50,60],"title":"r (fm)","titlePadding":2,"labelPadding":4}},
"y":{"field":"zz","type":"quantitative","scale":{"type":"log","domain":[0.0037,5.9]},"axis":{"values":[0.01,0.1,1],"title":null,"labelAlign":"center","labelPadding":10.5,"labelExpr":"datum.value === 1 ? '1' : datum.value === 0.1 ? '10⁻¹' : '10⁻²'"}}}},
{"data":{"name":"xmin"},"mark":{"type":"tick","orient":"vertical","size":8,"thickness":1,"color":"black","opacity":1,"clip":true},"encoding":{"x":{"field":"r","type":"quantitative","scale":{"domain":[0,60]}},"y":{"datum":0.0037,"type":"quantitative","scale":{"type":"log","domain":[0.0037,5.9]}}}},
{"data":{"name":"xmaj"},"mark":{"type":"tick","orient":"vertical","size":14,"thickness":1,"color":"black","opacity":1,"clip":true},"encoding":{"x":{"field":"r","type":"quantitative","scale":{"domain":[0,60]}},"y":{"datum":0.0037,"type":"quantitative","scale":{"type":"log","domain":[0.0037,5.9]}}}},
{"data":{"name":"ymin"},"mark":{"type":"tick","orient":"horizontal","size":8,"thickness":1,"color":"black","opacity":1,"clip":true},"encoding":{"x":{"datum":0,"type":"quantitative","scale":{"domain":[0,60]}},"y":{"field":"v","type":"quantitative","scale":{"type":"log","domain":[0.0037,5.9]}}}},
{"data":{"name":"ymaj"},"mark":{"type":"tick","orient":"horizontal","size":16,"thickness":1,"color":"black","opacity":1,"clip":true},"encoding":{"x":{"datum":0,"type":"quantitative","scale":{"domain":[0,60]}},"y":{"field":"v","type":"quantitative","scale":{"type":"log","domain":[0.0037,5.9]}}}},
{"data":{"name":"dzz"},"mark":{"type":"rule","color":"#000000","strokeWidth":1.4,"clip":true},"encoding":{"x":{"field":"r","type":"quantitative","scale":{"domain":[0,60]}},"y":{"field":"lo","type":"quantitative","scale":{"type":"log","domain":[0.0037,5.9]}},"y2":{"field":"hi"}}},
{"data":{"name":"dzz"},"mark":{"type":"point","shape":"circle","filled":true,"color":"#2850ff","size":28,"opacity":1,"clip":true},"encoding":{"x":{"field":"r","type":"quantitative","scale":{"domain":[0,60]}},"y":{"field":"v","type":"quantitative","scale":{"type":"log","domain":[0.0037,5.9]}}}},
{"data":{"name":"tzz"},"mark":{"type":"point","shape":"circle","filled":false,"color":"#2850ff","size":34,"strokeWidth":1,"opacity":1,"clip":true},"encoding":{"x":{"field":"r","type":"quantitative","scale":{"domain":[0,60]}},"y":{"field":"v","type":"quantitative","scale":{"type":"log","domain":[0.0037,5.9]}}}},
{"data":{"values":[{}]},"mark":{"type":"text","text":"S","fontSize":14,"align":"left","baseline":"alphabetic","color":"black"},"encoding":{"x":{"datum":35.2,"type":"quantitative","scale":{"domain":[0,60]}},"y":{"datum":1.18,"type":"quantitative","scale":{"type":"log","domain":[0.0037,5.9]}}}},
{"data":{"values":[{}]},"mark":{"type":"text","text":"0","fontSize":10,"align":"left","baseline":"alphabetic","color":"black"},"encoding":{"x":{"datum":37.2,"type":"quantitative","scale":{"domain":[0,60]}},"y":{"datum":2.4,"type":"quantitative","scale":{"type":"log","domain":[0.0037,5.9]}}}},
{"data":{"values":[{}]},"mark":{"type":"text","text":"+","fontSize":14,"align":"left","baseline":"alphabetic","color":"black"},"encoding":{"x":{"datum":38.6,"type":"quantitative","scale":{"domain":[0,60]}},"y":{"datum":1.18,"type":"quantitative","scale":{"type":"log","domain":[0.0037,5.9]}}}},
{"data":{"values":[{}]},"mark":{"type":"text","text":"S","fontSize":14,"align":"left","baseline":"alphabetic","color":"black"},"encoding":{"x":{"datum":41.2,"type":"quantitative","scale":{"domain":[0,60]}},"y":{"datum":1.18,"type":"quantitative","scale":{"type":"log","domain":[0.0037,5.9]}}}},
{"data":{"values":[{}]},"mark":{"type":"text","text":"2","fontSize":10,"align":"left","baseline":"alphabetic","color":"black"},"encoding":{"x":{"datum":43.2,"type":"quantitative","scale":{"domain":[0,60]}},"y":{"datum":2.4,"type":"quantitative","scale":{"type":"log","domain":[0.0037,5.9]}}}},
{"data":{"values":[{}]},"mark":{"type":"text","text":"zz","fontSize":10,"align":"left","baseline":"alphabetic","color":"black"},"encoding":{"x":{"datum":43.2,"type":"quantitative","scale":{"domain":[0,60]}},"y":{"datum":0.95,"type":"quantitative","scale":{"type":"log","domain":[0.0037,5.9]}}}},
{"data":{"values":[{}]},"mark":{"type":"text","text":"+","fontSize":14,"align":"left","baseline":"alphabetic","color":"black"},"encoding":{"x":{"datum":45.2,"type":"quantitative","scale":{"domain":[0,60]}},"y":{"datum":1.18,"type":"quantitative","scale":{"type":"log","domain":[0.0037,5.9]}}}},
{"data":{"values":[{}]},"mark":{"type":"text","text":"S","fontSize":14,"align":"left","baseline":"alphabetic","color":"black"},"encoding":{"x":{"datum":47.1,"type":"quantitative","scale":{"domain":[0,60]}},"y":{"datum":1.18,"type":"quantitative","scale":{"type":"log","domain":[0.0037,5.9]}}}},
{"data":{"values":[{}]},"mark":{"type":"text","text":"4","fontSize":10,"align":"left","baseline":"alphabetic","color":"black"},"encoding":{"x":{"datum":49.1,"type":"quantitative","scale":{"domain":[0,60]}},"y":{"datum":2.4,"type":"quantitative","scale":{"type":"log","domain":[0.0037,5.9]}}}},
{"data":{"values":[{}]},"mark":{"type":"text","text":"z4","fontSize":10,"align":"left","baseline":"alphabetic","color":"black"},"encoding":{"x":{"datum":49.1,"type":"quantitative","scale":{"domain":[0,60]}},"y":{"datum":0.95,"type":"quantitative","scale":{"type":"log","domain":[0.0037,5.9]}}}}
]
}
]
}
